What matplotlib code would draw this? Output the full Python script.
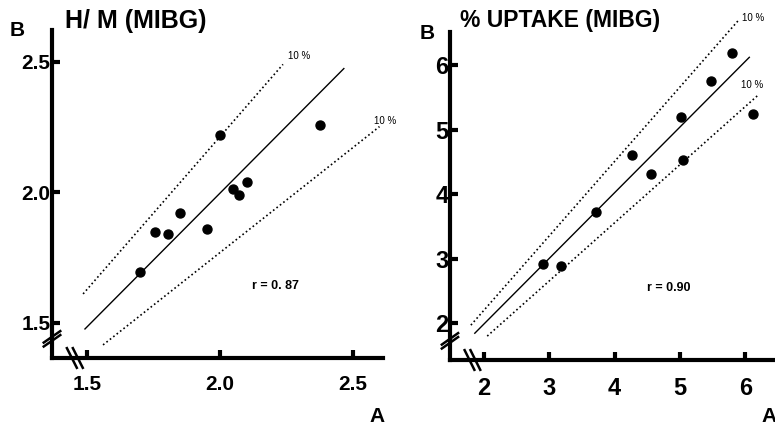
import matplotlib
matplotlib.use('Agg')
import matplotlib.pyplot as plt
import numpy as np

plt.rcParams['font.family'] = ['Liberation Sans', 'DejaVu Sans']

# -- left panel: H/M (MIBG)
hm_a = [2.00, 2.376, 2.049, 2.071, 2.10, 1.85, 1.755, 1.805, 1.951, 1.70]
hm_b = [2.22, 2.259, 2.013, 1.99, 2.04, 1.92, 1.849, 1.841, 1.86, 1.695]
hm_fit_x = [1.492, 2.466]
hm_fit_y = [1.477, 2.473]
hm_up_x = [1.485, 2.237]
hm_up_y = [1.611, 2.489]
hm_lo_x = [1.56, 2.60]
hm_lo_y = [1.416, 2.251]
hm_ticks = [1.5, 2.0, 2.5]
hm_r = 'r = 0. 87'

# -- right panel: % UPTAKE (MIBG)
up_a = [5.80, 5.48, 6.11, 5.02, 4.27, 4.55, 5.04, 3.72, 2.91, 3.18]
up_b = [6.19, 5.75, 5.24, 5.20, 4.60, 4.31, 4.53, 3.72, 2.92, 2.88]
up_fit_x = [1.86, 6.06]
up_fit_y = [1.845, 6.12]
up_up_x = [1.80, 5.90]
up_up_y = [1.97, 6.70]
up_lo_x = [2.05, 6.19]
up_lo_y = [1.80, 5.53]
up_xticks = [2, 3, 4, 5, 6]
up_yticks = [2, 3, 4, 5, 6]
up_r = 'r = 0.90'

dots = (0, (1, 1.6))

fig = plt.figure(figsize=(7.75, 4.28), dpi=100)
ax1 = fig.add_axes([0.0671, 0.1636, 0.427, 0.766])
ax2 = fig.add_axes([0.5806, 0.1589, 0.42, 0.766])


def style(ax, xticks, yticks, fmt, size):
    for s in ['top', 'right']:
        ax.spines[s].set_visible(False)
    for s in ['left', 'bottom']:
        ax.spines[s].set_linewidth(3)
    ax.set_xticks(xticks)
    ax.set_yticks(yticks)
    ax.set_xticklabels([fmt % v for v in xticks])
    ax.set_yticklabels([fmt % v for v in yticks])
    ax.tick_params(direction='in', length=6, width=3, labelsize=size)
    ax.tick_params(axis='x', pad=12)
    ax.tick_params(axis='y', pad=1)
    for lab in ax.get_xticklabels() + ax.get_yticklabels():
        lab.set_fontweight('bold')
    # axis break marks
    kw = dict(transform=ax.transAxes, color='black', lw=1.8, clip_on=False)
    for d in [0, 0.012]:
        ax.plot([-0.025, 0.025], [0.035 + d, 0.07 + d], **kw)
        ax.plot([0.045 + d * 1.5, 0.075 + d * 1.5], [0.03, -0.03], **kw)


ax1.set_xlim(1.368, 2.613)
ax1.set_ylim(1.366, 2.62)
style(ax1, hm_ticks, hm_ticks, '%.1f', 15)
ax1.plot(hm_fit_x, hm_fit_y, color='black', lw=1)
ax1.plot(hm_up_x, hm_up_y, color='black', lw=1.2, ls=dots)
ax1.plot(hm_lo_x, hm_lo_y, color='black', lw=1.2, ls=dots)
ax1.scatter(hm_a, hm_b, s=42, color='black', zorder=3)
ax1.text(hm_up_x[1] + 0.02, hm_up_y[1] + 0.02, '10 %', fontsize=7)
ax1.text(hm_lo_x[1] - 0.02, hm_lo_y[1] + 0.01, '10 %', fontsize=7)
ax1.text(2.12, 1.63, hm_r, fontsize=9, fontweight='bold')
fig.text(0.084, 0.935, 'H/ M (MIBG)', fontsize=18, fontweight='bold')
fig.text(0.012, 0.915, 'B', fontsize=15, fontweight='bold')
fig.text(0.477, 0.015, 'A', fontsize=15, fontweight='bold')

ax2.set_xlim(1.48, 6.46)
ax2.set_ylim(1.43, 6.51)
style(ax2, up_xticks, up_yticks, '%d', 17)
ax2.plot(up_fit_x, up_fit_y, color='black', lw=1)
ax2.plot(up_up_x, up_up_y, color='black', lw=1.2, ls=dots, clip_on=False)
ax2.plot(up_lo_x, up_lo_y, color='black', lw=1.2, ls=dots)
ax2.scatter(up_a, up_b, s=42, color='black', zorder=3)
ax2.text(up_up_x[1] + 0.05, up_up_y[1] - 0.02, '10 %', fontsize=7)
ax2.text(up_lo_x[1] - 0.26, up_lo_y[1] + 0.12, '10 %', fontsize=7)
ax2.text(4.5, 2.5, up_r, fontsize=9, fontweight='bold')
fig.text(0.594, 0.937, '% UPTAKE (MIBG)', fontsize=16.5, fontweight='bold')
fig.text(0.541, 0.91, 'B', fontsize=15, fontweight='bold')
fig.text(0.982, 0.015, 'A', fontsize=15, fontweight='bold')

plt.savefig('out.png', dpi=100)
